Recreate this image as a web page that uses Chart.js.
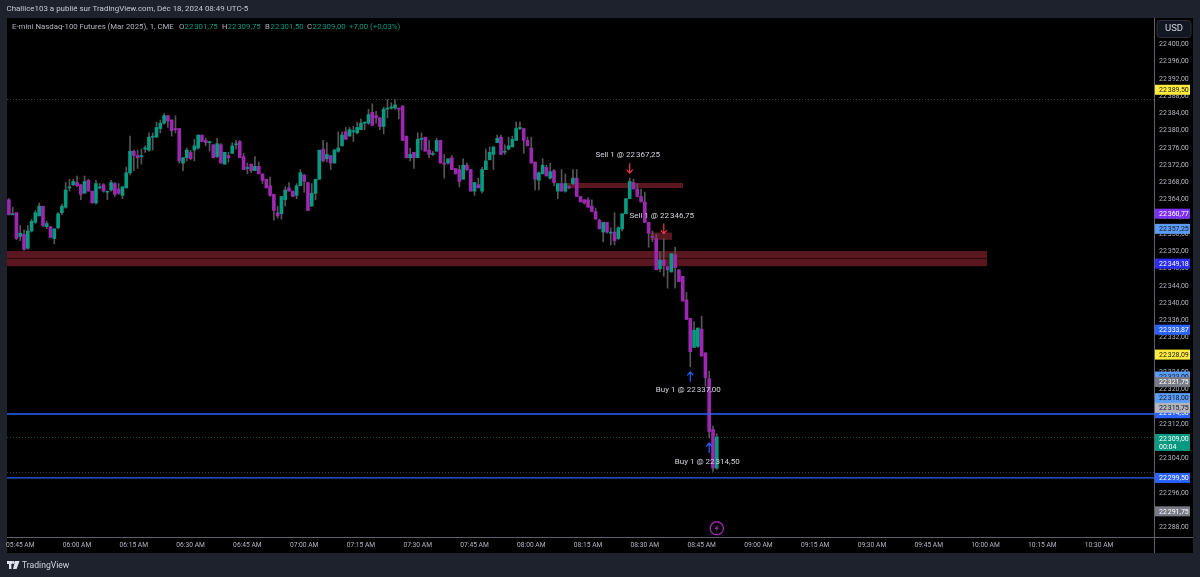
<!DOCTYPE html>
<html>
<head>
<meta charset="utf-8">
<title>E-mini Nasdaq-100 Futures</title>
<script src="https://cdn.jsdelivr.net/npm/chart.js@4"></script>
<style>
html, body { margin: 0; padding: 0; background: #1e222d; }
#wrap { width: 1200px; height: 577px; }
canvas { display: block; }
</style>
</head>
<body>
<div id="wrap"><canvas id="chart" width="1200" height="577"></canvas></div>
<script>
// candles, one per minute from 05:42
const opens = [
22364,22360.5,22361,22355.5,22356,22352.75,22356.75,22358.75,22360.25,22362.5,
22357.75,22357.75,22355,22357.5,22361,22362.25,22366.75,22367.5,22368,22367.5,
22365.5,22368.5,22366,22363.25,22366.75,22367.5,22365.75,22366.25,22367.75,22366.5,
22365,22366.75,22370.25,22375.25,22374.25,22374,22375.75,22375.5,22378.5,22378.5,
22380.5,22381.75,22383.5,22382.5,22380.5,22380.5,22372.5,22373.75,22375,22375.5,
22376,22379,22377.75,22377.25,22376.75,22374,22376.75,22372.25,22374.25,22374.75,
22376.75,22377.5,22374,22371.25,22372.25,22370.75,22371.75,22370,22368.75,22367.25,
22365.25,22361,22360.75,22364,22366.75,22366,22365,22367.25,22369.75,22368,
22362.5,22365.5,22368.75,22375.75,22373.5,22374.25,22372.5,22375.25,22376.5,22379.75,
22378.75,22379.75,22379.5,22380.25,22381.75,22381.75,22384.25,22383.5,22383,22381,
22385,22385.25,22385.25,22385.25,22385.75,22378.75,22373.75,22375,22373.75,22378,
22378.5,22375.5,22374.5,22375.25,22377.75,22372.5,22372.5,22373.75,22371.25,22371,
22368.75,22372,22371,22366,22367.5,22366,22371,22373.25,22374.5,22377.25,
22378.5,22375,22375.75,22376.25,22377.75,22380.5,22380.5,22377.75,22376,22372.75,
22368.5,22370,22371.5,22369,22370.75,22366,22367.75,22366,22367,22367.75,
22369,22364.75,22364,22364,22362.5,22361.25,22359.25,22356.5,22358.75,22356.25,
22356.5,22355,22357.25,22360.75,22364.25,22368,22366.5,22364.75,22363.5,22358.75,
22355.5,22355,22348,22350,22348.5,22347.25,22351.25,22347.75,22346.25,22340.75,
22336.5,22329.75,22330,22334,22328.5,22322.5,22310.75,22301.75];
const highs = [
22364.25,22362.25,22361,22358,22357,22358,22359.5,22361.5,22363.25,22362.5,
22359,22357.75,22357.25,22361,22363,22368,22368.75,22368.75,22369.5,22367.5,
22369.5,22368.75,22366,22368.5,22367.75,22367.75,22365.75,22368.5,22368,22367.75,
22367,22371.5,22378.75,22375.5,22375.5,22375.75,22376.5,22379.5,22379.5,22382,
22382.5,22384,22383.5,22382.5,22383.5,22380.5,22373.75,22376,22375.5,22378,
22379,22379,22378.25,22377.5,22376.75,22378.25,22377,22375,22375,22377.25,
22377.75,22377.75,22374.75,22372.5,22372.25,22374,22372.75,22370,22368.75,22369.25,
22365.25,22362.5,22364.75,22367,22368,22366,22367.75,22371,22369.75,22368,
22367.75,22368.75,22375.5,22377.75,22377.25,22374.25,22375.75,22379.75,22379.75,22380.75,
22380.75,22381,22382,22382.75,22382,22385,22386.25,22384.5,22383,22385.5,
22387.25,22386.5,22387.25,22385.25,22385.75,22378.75,22376,22375,22379.5,22379.5,
22378.5,22377.75,22375.25,22378.25,22377.75,22374.5,22373.5,22374.25,22371.25,22372,
22373.5,22372.5,22371,22368,22369,22371.5,22375.75,22376.25,22376.25,22379,
22379,22376.75,22378.5,22378.75,22382,22382,22380.5,22378.5,22378.5,22372.75,
22370.5,22373.5,22372,22372.5,22371,22367.75,22371,22370,22367.25,22371,
22371,22364.75,22364,22364.5,22364,22362,22359.5,22358.75,22358.75,22357.5,
22361,22357.75,22360.75,22364.25,22369,22368.75,22367.75,22366.5,22365.75,22358.75,
22356.75,22356,22352,22355,22348.5,22351.5,22353,22347.75,22346.25,22342.5,
22336.5,22335.75,22334.25,22337,22328.5,22324.25,22311.5,22309.75];
const lows = [
22360.5,22360.5,22354.75,22354.5,22352.25,22352.5,22356.5,22358.5,22360.25,22357.75,
22357.25,22355.25,22353.75,22357.25,22360.5,22362,22366,22367.25,22367,22364,
22365.5,22366,22363.25,22363,22366.5,22365.75,22364,22366,22364.75,22365.25,
22364.25,22366.75,22369.75,22370.75,22371.25,22372.25,22375,22375.25,22375.5,22378.5,
22379.5,22381.5,22380.75,22378.75,22379.5,22372.5,22370.75,22373,22373.25,22373,
22375.75,22377.5,22376.5,22375.25,22373.75,22373.75,22372.5,22372.25,22372.75,22374.75,
22375.75,22373.75,22371,22370,22370.25,22370.75,22370,22367.75,22366.75,22364.75,
22359.25,22359.75,22359.5,22362.5,22366,22364.75,22364.25,22367.25,22365.75,22361.5,
22362.5,22364,22368.75,22372.75,22372.75,22371,22372.5,22375,22376.5,22378,
22378.75,22377.5,22379.25,22380.25,22380.25,22381.5,22381.25,22381.75,22380.25,22379.25,
22383,22385,22385,22382.75,22377.75,22373.75,22373,22371.25,22373.75,22375.5,
22375.25,22373.75,22374.25,22375.25,22372.5,22369,22372.25,22371,22370,22367,
22368.75,22370.75,22366,22365,22366.75,22365.5,22371,22373.25,22371,22377.25,
22374.5,22374.5,22375.5,22376.25,22377.75,22380.25,22374.75,22376.5,22372.5,22366.25,
22366.25,22370,22369.5,22368.75,22367.25,22364.25,22366,22365.75,22366.5,22367.5,
22364.75,22363.5,22363,22362.25,22361.25,22359.5,22357.25,22354.25,22356.25,22353.5,
22353.5,22354.75,22356.75,22360.75,22364.25,22366.5,22364.75,22363.5,22358.75,22353,
22354.25,22347.75,22347.25,22346.25,22343.5,22347.25,22343.5,22345,22340.5,22336.25,
22325.25,22329.75,22329.75,22327.75,22320.75,22308.75,22301,22301.5];
const closes = [
22360.5,22360.75,22355,22356.25,22352.5,22356.75,22359,22361,22362.5,22358,
22358.5,22355.25,22357.25,22360.75,22362.5,22366.25,22367,22368.25,22367.25,22365.25,
22368.25,22366,22363.25,22367.75,22366.75,22366,22365.75,22368,22365.25,22365.5,
22367,22370.25,22375.25,22374.25,22373.75,22374.25,22376,22378.5,22378.75,22380.75,
22381.75,22383.5,22382.25,22380,22380.25,22373,22373.75,22375.5,22373.5,22376.5,
22379,22377.5,22377.25,22377.5,22373.75,22377,22372.5,22375,22373.75,22376.5,
22377,22373.75,22371,22371.5,22370.75,22371.75,22370,22368.5,22366.75,22365,
22361.5,22360.25,22364.75,22366.25,22366,22364.75,22367.25,22370.25,22368.25,22361.5,
22365.5,22368.75,22375.5,22373,22374.5,22372.5,22375.5,22376,22379,22378,
22380.25,22380,22380.75,22381.75,22382,22383.75,22381.25,22383,22381,22385,
22385.25,22385.5,22386,22385,22377.75,22373.75,22374.5,22373.75,22378,22378.25,
22375.25,22374.5,22374.75,22377.75,22372.5,22372.25,22373.5,22371,22370,22368.25,
22372,22371,22366,22368,22366.75,22371,22373,22375,22376.25,22378.25,
22374.5,22375.25,22376.5,22378,22380.5,22380.75,22377.75,22376.5,22372.5,22368.75,
22370.25,22372,22369.5,22370.5,22368,22367.75,22366,22367.75,22366.75,22369,
22364.75,22363.5,22363.25,22362.25,22361.25,22359.5,22357.25,22358.75,22356.5,22356.25,
22354.5,22357.5,22360.75,22364.25,22368.25,22366.5,22364.75,22363.5,22358.75,22356.25,
22355.25,22347.75,22350,22348.75,22347.75,22351.5,22348.25,22345,22340.5,22336.25,
22328.75,22333.75,22334.25,22327.75,22322.75,22310.25,22301.75,22309];

const priceTicks = [22288,22292,22296,22300,22304,22308,22312,22316,22320,22324,22328,22332,22336,22340,22344,22348,22352,22356,22360,22364,22368,22372,22376,22380,22384,22388,22392,22396,22400];
const timeTicks = ["05:45 AM","06:00 AM","06:15 AM","06:30 AM","06:45 AM","07:00 AM","07:15 AM","07:30 AM","07:45 AM","08:00 AM","08:15 AM","08:30 AM","08:45 AM","09:00 AM","09:15 AM","09:30 AM","09:45 AM","10:00 AM","10:15 AM","10:30 AM"];

// price tags on the right: value, fill, text colour
const tagPrices = [22389.5,22360.77,22357.25,22349.18,22333.87,22328.09,22323,22321.75,22318,22314.5,22315.75,22299.5,22291.75];
const tagFills = ["#ffeb3b","#7b2ff7","#5b9cf6","#2a2cf5","#2962ff","#ffeb3b","#5b9cf6","#787b86","#5b9cf6","#2962ff","#b2b5be","#2962ff","#787b86"];
const tagTexts = ["#131722","#ffffff","#131722","#ffffff","#ffffff","#131722","#131722","#ffffff","#131722","#ffffff","#131722","#ffffff","#ffffff"];

// order marks: candle index, label, side
const tradeCandles = [164,173,180,185];
const tradeLabels = ["Sell 1 @ 22\u202f367,25","Sell 1 @ 22\u202f346,75","Buy 1 @ 22\u202f337,00","Buy 1 @ 22\u202f314,50"];

const levelBlue = [22314.32,22299.5];
const dottedLevels = [22387.4,22309,22300.8];
const dottedColors = ["#3a3d45","#0c4a3f","#3a3d45"];

const UP = "#089981", DOWN = "#9c27b0", WICK = "#555558";
const FONT = "Roboto, sans-serif";
const slots = 303;

function timeLabel(i) {
    const m = 5 * 60 + 42 + i;
    const h = Math.floor(m / 60);
    const mm = m % 60;
    return String(h).padStart(2, "0") + ":" + String(mm).padStart(2, "0") + " AM";
}
const categories = [];
for (let i = 0; i < slots; i++) categories.push(timeLabel(i));

const priceText = v => v.toFixed(2).replace(".", ",").replace(/^(\d{2})(\d{3})/, "$1\u202f$2");

const bodies = opens.map((o, i) => [o, closes[i]]);
const wicks = lows.map((l, i) => [l, highs[i]]);
const colors = opens.map((o, i) => closes[i] >= o ? UP : DOWN);

const paintBack = {
    id: "paintBack",
    beforeDraw(chart) {
        const { ctx, chartArea: a, scales: { x, y } } = chart;
        ctx.save();
        ctx.fillStyle = "#1e222d";
        ctx.fillRect(0, 0, chart.width, chart.height);
        ctx.fillStyle = "#000000";
        ctx.fillRect(a.left, a.top, 1193 - a.left, 553 - a.top);

        // zones
        const zone = (x0, x1, p0, p1) => {
            ctx.fillStyle = "#5a1720";
            ctx.fillRect(x0, y.getPixelForValue(p0), x1 - x0, y.getPixelForValue(p1) - y.getPixelForValue(p0));
        };
        zone(a.left, 987, 22352.1, 22348.6);
        ctx.fillStyle = "#2e0a10";
        ctx.fillRect(a.left, y.getPixelForValue(22350.5), 987 - a.left, 1);
        zone(x.getPixelForValue(148) - 4, 683, 22367.9, 22366.7);
        zone(x.getPixelForValue(170) - 2, 672, 22356.4, 22354.7);

        // levels
        dottedLevels.forEach((p, i) => {
            ctx.strokeStyle = dottedColors[i];
            ctx.setLineDash([1, 2]);
            ctx.beginPath();
            ctx.moveTo(a.left, Math.round(y.getPixelForValue(p)) + 0.5);
            ctx.lineTo(a.right, Math.round(y.getPixelForValue(p)) + 0.5);
            ctx.stroke();
        });
        ctx.setLineDash([]);
        ctx.restore();
    },
    afterDatasetsDraw(chart) {
        const { ctx, chartArea: a, scales: { y } } = chart;
        ctx.save();
        ctx.strokeStyle = "#2962ff";
        ctx.lineWidth = 1.4;
        levelBlue.forEach(p => {
            ctx.beginPath();
            ctx.moveTo(a.left, y.getPixelForValue(p));
            ctx.lineTo(a.right, y.getPixelForValue(p));
            ctx.stroke();
        });
        ctx.restore();
    },
    afterDraw(chart) {
        const { ctx, chartArea: a, scales: { x, y } } = chart;
        ctx.save();

        // pane borders
        ctx.fillStyle = "#5d606b";
        ctx.fillRect(a.right, a.top, 1, 553 - a.top);
        ctx.fillRect(a.left, a.bottom, 1193 - a.left, 1);

        // order marks
        ctx.textAlign = "center";
        ctx.textBaseline = "middle";
        tradeCandles.forEach((c, i) => {
            const sell = tradeLabels[i].startsWith("Sell");
            const px = x.getPixelForValue(c);
            const dir = sell ? -1 : 1;
            const anchor = y.getPixelForValue(sell ? highs[c] : lows[c]) + dir * 5;
            ctx.strokeStyle = sell ? "#f23645" : "#2962ff";
            ctx.lineWidth = 1.2;
            ctx.beginPath();
            ctx.moveTo(px, anchor);
            ctx.lineTo(px, anchor + dir * 10);
            ctx.moveTo(px - 3, anchor + dir * 3.5);
            ctx.lineTo(px, anchor);
            ctx.lineTo(px + 3, anchor + dir * 3.5);
            ctx.stroke();
            ctx.font = "8px " + FONT;
            ctx.fillStyle = "#d1d4dc";
            ctx.fillText(tradeLabels[i], px - 2, anchor + dir * 18.5 + (sell ? 0.5 : 0));
        });

        // session break icon under the last candle
        const bx = x.getPixelForValue(opens.length - 1);
        const by = y.getPixelForValue(22287.8);
        ctx.strokeStyle = DOWN;
        ctx.lineWidth = 1.3;
        ctx.beginPath();
        ctx.arc(bx, by, 6.6, 0, Math.PI * 2);
        ctx.stroke();
        ctx.fillStyle = DOWN;
        ctx.beginPath();
        ctx.moveTo(bx + 1.2, by - 4);
        ctx.lineTo(bx - 2.2, by + 0.6);
        ctx.lineTo(bx - 0.2, by + 0.6);
        ctx.lineTo(bx - 1.2, by + 4);
        ctx.lineTo(bx + 2.2, by - 0.8);
        ctx.lineTo(bx + 0.2, by - 0.8);
        ctx.closePath();
        ctx.fill();

        // price tags
        ctx.textAlign = "left";
        ctx.font = "7px " + FONT;
        tagPrices.forEach((p, i) => {
            const py = y.getPixelForValue(p);
            ctx.fillStyle = tagFills[i];
            ctx.fillRect(a.right + 1, py - 5, 35, 10);
            ctx.fillStyle = tagTexts[i];
            ctx.fillText(priceText(p), a.right + 5, py + 0.5);
        });

        // last price tag with countdown
        const lastY = y.getPixelForValue(closes[closes.length - 1]);
        ctx.fillStyle = UP;
        ctx.fillRect(a.right + 1, lastY - 3, 35, 17);
        ctx.fillStyle = "#ffffff";
        ctx.fillText(priceText(closes[closes.length - 1]), a.right + 5, lastY + 2);
        ctx.fillText("00:04", a.right + 5, lastY + 10);

        // currency button
        ctx.fillStyle = "#131722";
        ctx.strokeStyle = "#2a2e39";
        ctx.lineWidth = 1;
        ctx.beginPath();
        ctx.roundRect(1157, 20.5, 34, 17, 3);
        ctx.fill();
        ctx.stroke();
        ctx.fillStyle = "#d1d4dc";
        ctx.textAlign = "center";
        ctx.font = "9.5px " + FONT;
        ctx.fillText("USD", 1174, 29);

        // header
        ctx.textAlign = "left";
        ctx.fillStyle = "#c5c8d0";
        ctx.font = "7.95px " + FONT;
        ctx.fillText("Challice103 a publié sur TradingView.com, Déc 18, 2024 08:49 UTC-5", 6.5, 9.5);

        // legend row
        ctx.font = "7.8px " + FONT;
        ctx.fillStyle = "#b2b5be";
        ctx.fillText("E-mini Nasdaq-100 Futures (Mar 2025), 1, CME", 12, 27.5);
        const legendKeys = ["O", "H", "B", "C"];
        const legendVals = [opens[opens.length - 1], highs[highs.length - 1], 22301.5, closes[closes.length - 1]];
        const legendX = [179, 222, 265, 307];
        legendKeys.forEach((k, i) => {
            ctx.fillStyle = "#b2b5be";
            ctx.fillText(k, legendX[i], 27.5);
            ctx.fillStyle = UP;
            ctx.fillText(priceText(legendVals[i]), legendX[i] + 5.5, 27.5);
        });
        ctx.fillText("+7,00 (+0,03%)", 349, 27.5);

        // logo
        ctx.fillStyle = "#e0e3eb";
        ctx.fillRect(7, 561, 5, 3);
        ctx.fillRect(9, 561, 2.4, 8);
        ctx.beginPath();
        ctx.arc(13.2, 562.5, 1.4, 0, Math.PI * 2);
        ctx.fill();
        ctx.beginPath();
        ctx.moveTo(15, 561);
        ctx.lineTo(19.5, 561);
        ctx.lineTo(16.6, 569);
        ctx.lineTo(13, 569);
        ctx.closePath();
        ctx.fill();
        ctx.fillStyle = "#d1d4dc";
        ctx.font = "8.6px " + FONT;
        ctx.fillText("TradingView", 22, 565.5);
        ctx.restore();
    }
};

new Chart(document.getElementById("chart"), {
    type: "bar",
    data: {
        labels: categories,
        datasets: [
            { label: "wick", data: wicks, backgroundColor: WICK, barThickness: 1, grouped: false, order: 2, borderSkipped: false },
            { label: "body", data: bodies, backgroundColor: colors, barThickness: 3, grouped: false, order: 1, minBarLength: 1, borderSkipped: false }
        ]
    },
    options: {
        responsive: false,
        animation: false,
        events: [],
        layout: { padding: { left: 7, top: 18, right: 7, bottom: 24 } },
        plugins: { legend: { display: false }, tooltip: { enabled: false }, title: { display: false } },
        scales: {
            x: {
                grid: { display: false, drawTicks: false },
                border: { display: false },
                afterFit(scale) { scale.height = 16; },
                ticks: {
                    autoSkip: false,
                    maxRotation: 0,
                    padding: 4,
                    color: "#b2b5be",
                    font: { family: FONT, size: 6.7 },
                    callback(val) {
                        const t = categories[val];
                        return timeTicks.includes(t) ? t : "";
                    }
                }
            },
            y: {
                position: "right",
                min: 22285.8,
                max: 22406.14,
                grid: { display: false, drawTicks: false },
                border: { display: false },
                afterFit(scale) { scale.width = 39; },
                afterBuildTicks(scale) { scale.ticks = priceTicks.map(value => ({ value })); },
                ticks: {
                    padding: 5,
                    color: "#b2b5be",
                    font: { family: FONT, size: 7 },
                    callback: v => priceText(v)
                }
            }
        }
    },
    plugins: [paintBack]
});
</script>
</body>
</html>
